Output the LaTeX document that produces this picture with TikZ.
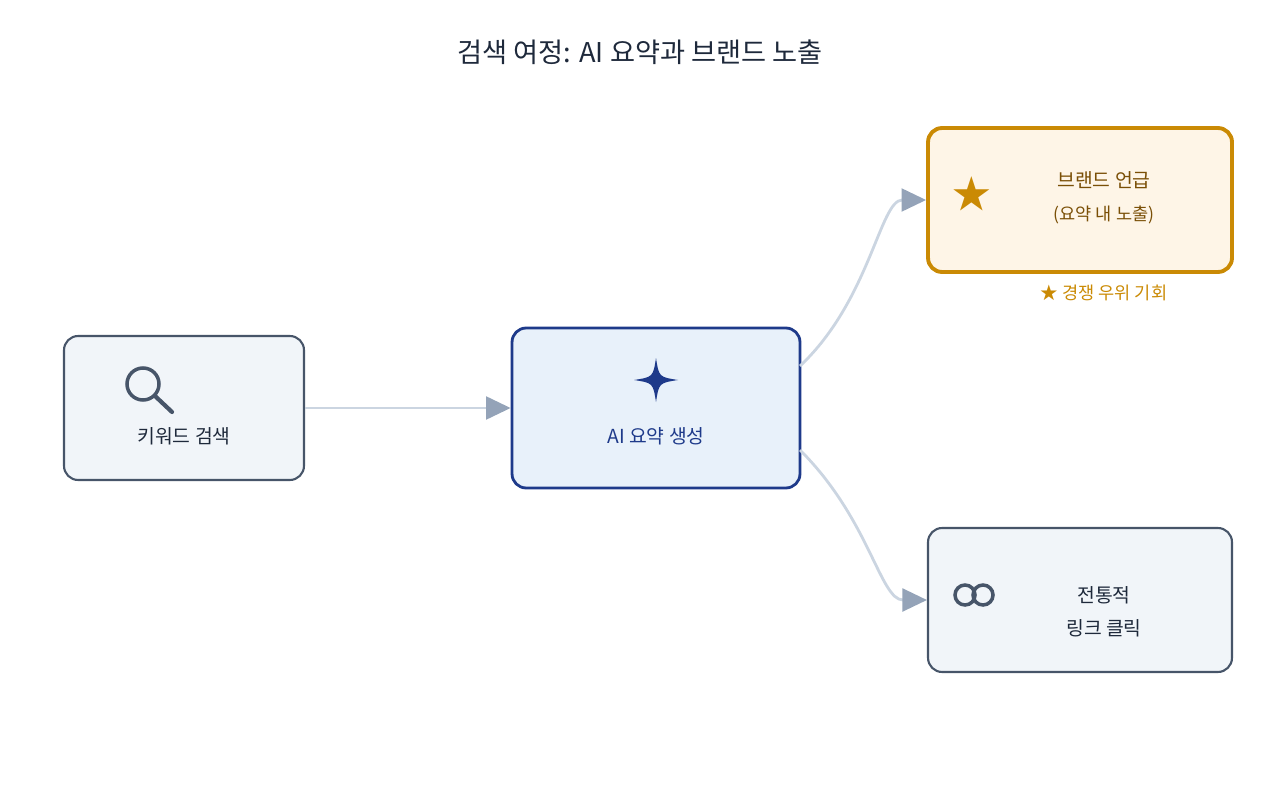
\documentclass[tikz,border=0pt]{standalone}
\usepackage{fontspec}
\setmainfont{Noto Sans CJK KR}
\usepackage{xcolor}
\usetikzlibrary{positioning,arrows.meta}
\definecolor{slateline}{HTML}{475569}
\definecolor{slatefill}{HTML}{F1F5F9}
\definecolor{navy}{HTML}{1E3A8A}
\definecolor{navyfill}{HTML}{E8F1FA}
\definecolor{gold}{HTML}{CA8A04}
\definecolor{goldfill}{HTML}{FEF5E7}
\definecolor{goldtext}{HTML}{7A4F06}
\definecolor{flow}{HTML}{CBD5E1}
\definecolor{tip}{HTML}{94A3B8}
\definecolor{ink}{HTML}{1E293B}
\tikzset{
  box/.style={draw=slateline, fill=slatefill, line width=1.2pt, rounded corners=8pt, text=ink, align=center},
  lbl/.style={font=\fontsize{11}{19}\selectfont, align=center},
  flowline/.style={draw=flow, line width=1.6pt, -{Triangle[length=14pt,width=13pt,fill=tip,color=tip]}}
}
\begin{document}
\begin{tikzpicture}[x=0.02cm, y=-0.02cm]
\useasboundingbox (0,0) rectangle (1280,800);

\node[font=\fontsize{15.5}{18}\selectfont, text=ink] (title) at (640,52) {검색 여정: AI 요약과 브랜드 노출};

\node[box, minimum width=4.8cm, minimum height=2.88cm] (search) at (184,408) {};
\node[box, draw=navy, fill=navyfill, line width=1.6pt, minimum width=5.76cm, minimum height=3.2cm] (summary) at (656,408) {};
\node[box, draw=gold, fill=goldfill, line width=2.2pt, minimum width=6.08cm, minimum height=2.88cm] (brand) at (1080,200) {};
\node[box, minimum width=6.08cm, minimum height=2.88cm] (link) at (1080,600) {};

% labels
\node[lbl, text=ink] (searchtxt) at (184,436) {키워드 검색};
\node[lbl, text=navy] (sumtxt) at (656,436) {AI 요약 생성};
\node[lbl, text=goldtext] (brandtxt) at (1104,198) {브랜드 언급\\{\fontsize{10}{12}\selectfont (요약 내 노출)}};
\node[lbl, text=ink] (linktxt) at (1104,612) {전통적\\링크 클릭};
\node[font=\fontsize{10}{12}\selectfont, text=gold] (edge) at (1104,293) {★ 경쟁 우위 기회};

% icons
\draw[slateline, line width=2pt] (143,384) circle (16);
\draw[slateline, line width=2.4pt, line cap=round] (155,396) -- (172,412);
\fill[navy] (656,358) .. controls (659,377) .. (678,380) .. controls (659,383) .. (656,402) .. controls (653,383) .. (634,380) .. controls (653,377) .. (656,358) -- cycle;
\node[text=gold, font=\fontsize{22}{22}\selectfont] (staricon) at (972,194) {★};
\draw[slateline, line width=2pt] (965,595) circle (10) (983,595) circle (10);

% connectors
\coordinate (sumtop) at (800,366);
\coordinate (sumbot) at (800,450);
\draw[flowline] (search.east) -- (summary.west);
\draw[flowline] (sumtop) .. controls (870,300) and (880,200) .. (brand.west);
\draw[flowline] (sumbot) .. controls (870,520) and (880,600) .. (link.west);
\end{tikzpicture}
\end{document}
